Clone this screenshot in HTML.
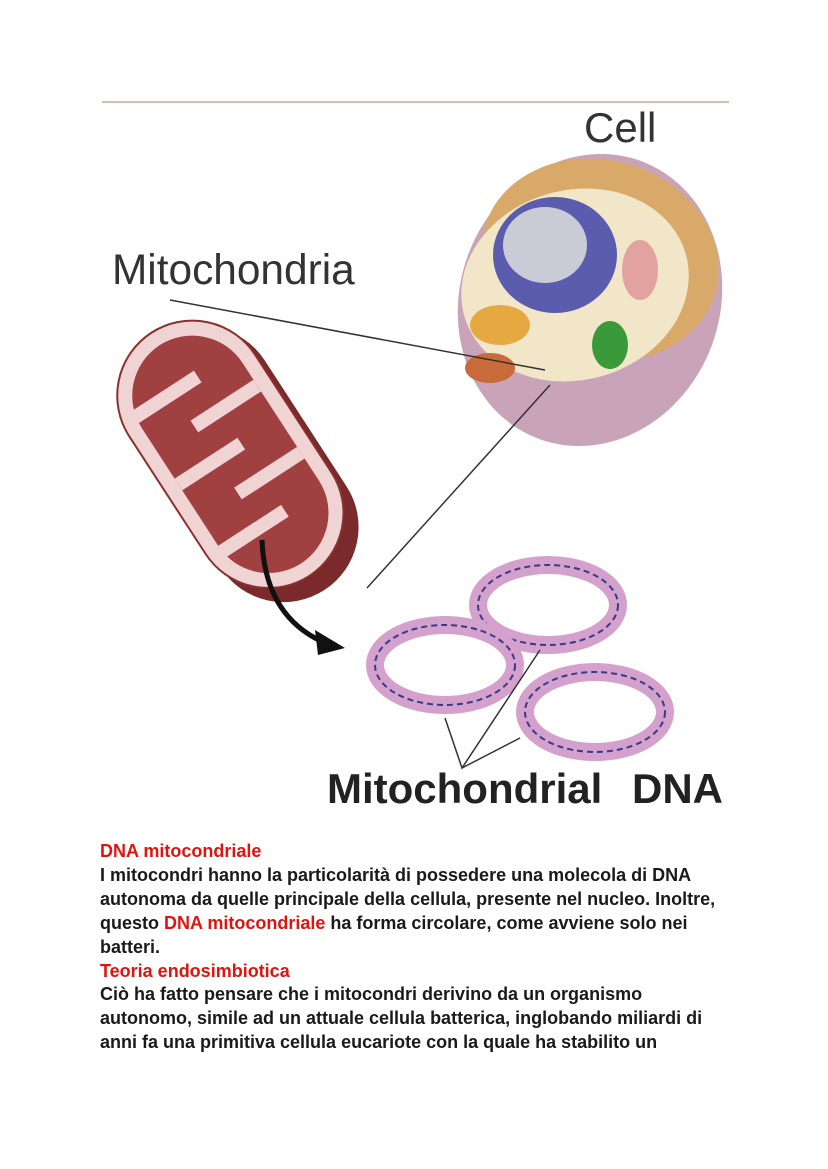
<!DOCTYPE html>
<html><head><meta charset="utf-8"><style>
body{margin:0;background:#fff;width:828px;height:1169px;overflow:hidden;position:relative;font-family:"Liberation Sans",sans-serif}
.t{position:absolute;left:100px;top:840px;font-size:18px;font-weight:bold;line-height:23.9px;color:#1a1a1a;white-space:nowrap}
.r{color:#e0140f}
</style></head><body>
<svg width="828" height="830" style="position:absolute;left:0;top:0">
<line x1="102" y1="102" x2="729" y2="102" stroke="#c8a898" stroke-width="1.5"/>
<text x="584" y="142" font-size="42" fill="#333" font-family="Liberation Sans">Cell</text>
<text x="112" y="284" font-size="42.4" fill="#333" font-family="Liberation Sans">Mitochondria</text>
<ellipse cx="590" cy="300" rx="130" ry="148" fill="#c9a4b8" transform="rotate(20 590 300)"/>
<ellipse cx="600" cy="260" rx="120" ry="100" fill="#d9a96a" transform="rotate(15 600 260)"/>
<ellipse cx="575" cy="285" rx="115" ry="95" fill="#f1e6c8" transform="rotate(-15 575 285)"/>
<ellipse cx="555" cy="255" rx="62" ry="58" fill="#5c5cae"/>
<ellipse cx="545" cy="245" rx="42" ry="38" fill="#c9ccd6"/>
<ellipse cx="500" cy="325" rx="30" ry="20" fill="#e6a840"/>
<ellipse cx="610" cy="345" rx="18" ry="24" fill="#3a9a3a"/>
<ellipse cx="490" cy="368" rx="25" ry="15" fill="#c86a3a"/>
<ellipse cx="640" cy="270" rx="18" ry="30" fill="#e1a2a0"/>
<line x1="170" y1="300" x2="545" y2="370" stroke="#333" stroke-width="1.5"/>
<line x1="367" y1="588" x2="550" y2="385" stroke="#333" stroke-width="1.5"/>
<g transform="rotate(-33 240 460)">
<rect x="165" y="315" width="150" height="300" rx="75" fill="#7a2a2a"/>
<rect x="160" y="305" width="150" height="290" rx="75" fill="#f0d4d4" stroke="#8a3030" stroke-width="2"/>
<rect x="175" y="320" width="120" height="260" rx="60" fill="#a04040"/>
<g fill="#f0d4d4"><rect x="175" y="360" width="75" height="14"/><rect x="220" y="400" width="75" height="14"/><rect x="175" y="440" width="75" height="14"/><rect x="220" y="480" width="75" height="14"/><rect x="175" y="520" width="75" height="14"/></g>
</g>
<path d="M262 540 Q265 620 330 645" fill="none" stroke="#111" stroke-width="5"/>
<polygon points="345,648 315,630 318,655" fill="#111"/>
<g fill="none">
<ellipse cx="548" cy="605" rx="70" ry="40" stroke="#d4a0cc" stroke-width="18"/>
<ellipse cx="548" cy="605" rx="70" ry="40" stroke="#3a3a8a" stroke-width="2" stroke-dasharray="6 4"/>
<ellipse cx="445" cy="665" rx="70" ry="40" stroke="#d4a0cc" stroke-width="18"/>
<ellipse cx="445" cy="665" rx="70" ry="40" stroke="#3a3a8a" stroke-width="2" stroke-dasharray="6 4"/>
<ellipse cx="595" cy="712" rx="70" ry="40" stroke="#d4a0cc" stroke-width="18"/>
<ellipse cx="595" cy="712" rx="70" ry="40" stroke="#3a3a8a" stroke-width="2" stroke-dasharray="6 4"/>
</g>
<polyline points="445,718 462,768 540,650" fill="none" stroke="#333" stroke-width="1.5"/>
<line x1="462" y1="768" x2="520" y2="738" stroke="#333" stroke-width="1.5"/>
<text x="327" y="803" font-size="42" font-weight="bold" fill="#222" font-family="Liberation Sans">Mitochondrial</text>
<text x="632" y="803" font-size="42" font-weight="bold" fill="#222" font-family="Liberation Sans">DNA</text>
</svg>
<div class="t"><span class="r">DNA mitocondriale</span><br>I mitocondri hanno la particolarità di possedere una molecola di DNA<br>autonoma da quelle principale della cellula, presente nel nucleo. Inoltre,<br>questo <span class="r">DNA mitocondriale</span> ha forma circolare, come avviene solo nei<br>batteri.<br><span class="r">Teoria endosimbiotica</span><br>Ciò ha fatto pensare che i mitocondri derivino da un organismo<br>autonomo, simile ad un attuale cellula batterica, inglobando miliardi di<br>anni fa una primitiva cellula eucariote con la quale ha stabilito un</div>
</body></html>
